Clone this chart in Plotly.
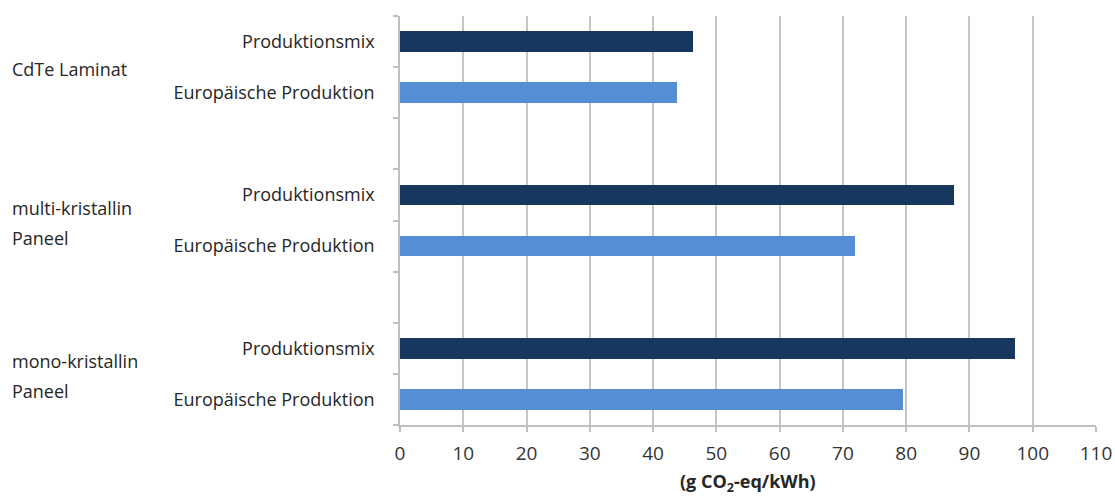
import plotly.graph_objects as go

# Product groups (top to bottom) and the two production scenarios
groups = ["CdTe Laminat", "multi-kristallin\nPaneel", "mono-kristallin\nPaneel"]
series_names = ["Produktionsmix", "Europäische Produktion"]
produktionsmix = [46.3, 87.6, 97.2]
europaeisch = [43.7, 71.9, 79.5]

x_ticks = list(range(0, 111, 10))
x_title = "<b>(g CO<sub>2</sub>-eq/kWh)</b>"
colors = ["#17375E", "#558ED5"]

# Each group occupies three slots: two bars plus one empty spacer row
slot_per_group = 3
n_slots = len(groups) * slot_per_group - 1
pos_mix = [g * slot_per_group for g in range(len(groups))]
pos_eu = [g * slot_per_group + 1 for g in range(len(groups))]

fig = go.Figure()
for name, pos, vals, col in [
    (series_names[0], pos_mix, produktionsmix, colors[0]),
    (series_names[1], pos_eu, europaeisch, colors[1]),
]:
    fig.add_trace(go.Bar(
        x=vals, y=pos, orientation="h", name=name,
        marker=dict(color=col, line=dict(width=0)),
        width=0.4, showlegend=False,
    ))

tickvals = pos_mix + pos_eu
ticktext = [series_names[0]] * len(groups) + [series_names[1]] * len(groups)

font_family = "Open Sans, Noto Sans, sans-serif"
text_color = "#262626"

fig.update_layout(
    width=1115, height=497,
    margin=dict(l=400, r=19, t=16, b=72),
    plot_bgcolor="white", paper_bgcolor="white",
    font=dict(family=font_family, size=18, color=text_color),
    bargap=0,
)

fig.update_xaxes(
    range=[0, 110], tickvals=x_ticks, automargin=False,
    showgrid=True, gridcolor="#C6C6C6", gridwidth=1.5,
    showline=True, linecolor="#BFBFBF", linewidth=1.5,
    ticks="outside", ticklen=5, tickcolor="#BFBFBF", tickwidth=1.5,
    ticklabelstandoff=5,
    tickfont=dict(size=19, color="#333333"),
    zeroline=False,
)

fig.update_yaxes(
    range=[n_slots - 0.5, -0.5], automargin=False,
    tickvals=tickvals, ticktext=ticktext,
    ticks="outside", ticklen=0, ticklabelstandoff=20,
    tickfont=dict(size=18, color=text_color),
    showgrid=False, zeroline=False,
    showline=True, linecolor="#BFBFBF", linewidth=1.5,
    minor=dict(
        tickvals=[i - 0.5 for i in range(n_slots + 1)],
        ticks="outside", ticklen=5, tickcolor="#BFBFBF", tickwidth=1.5,
        showgrid=False,
    ),
)

# Axis title placed below the tick labels
fig.add_annotation(
    x=0.5, xref="paper", xanchor="center",
    y=0, yref="paper", yanchor="middle", yshift=-57,
    text=x_title, showarrow=False,
    font=dict(size=18, color=text_color),
)

# Group labels to the far left of the inner category labels
line_gap = 30
for g, label in enumerate(groups):
    lines = label.split("\n")
    for k, line in enumerate(lines):
        offset = ((len(lines) - 1) / 2 - k) * line_gap
        fig.add_annotation(
            x=0, xref="paper", xanchor="left", xshift=-390,
            y=g * slot_per_group + 0.5, yref="y", yanchor="middle",
            yshift=offset - 2,
            text=line, showarrow=False, align="left",
            font=dict(size=18, color=text_color),
        )

fig.write_html("out.html")
